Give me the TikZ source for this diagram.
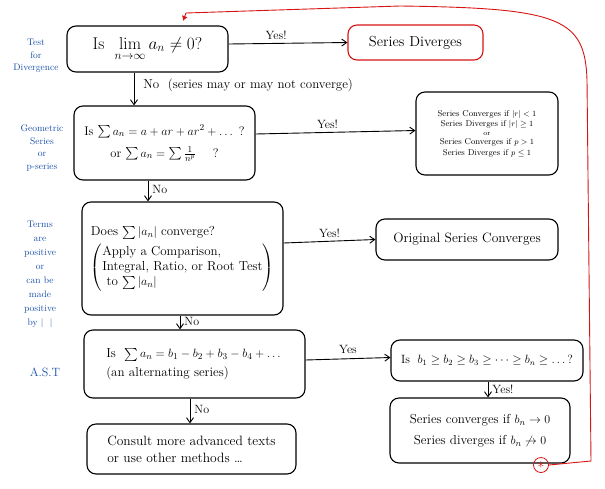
\documentclass[tikz,border=0pt]{standalone}
\usepackage{amsmath,amssymb}
\usetikzlibrary{arrows.meta}
\definecolor{pen}{RGB}{25,80,170}
\definecolor{redpen}{RGB}{215,20,20}
\begin{document}
\begin{tikzpicture}[x=1pt,y=-1pt,
  box/.style={draw, line width=1.1pt, rounded corners=9pt, align=center, inner sep=3pt},
  arr/.style={draw, line width=0.9pt, -{Straight Barb[length=5pt,width=7pt]}},
  lbl/.style={font=\fontsize{12}{13}\selectfont, inner sep=1pt},
  side/.style={text=pen, align=center, font=\fontsize{9.5}{12.5}\selectfont}]
\useasboundingbox (0,0) rectangle (605,488);
% boxes
\node[box, minimum width=161, minimum height=46, font=\fontsize{17}{19}\selectfont] (b1) at (147.5,49)
  {Is \ $\displaystyle\lim_{n\to\infty} a_n \neq 0$?};
\node[box, draw=redpen, minimum width=135, minimum height=35, font=\fontsize{14.5}{16}\selectfont] (b2) at (415.5,42.5)
  {Series Diverges};
\node[box, minimum width=181, minimum height=74, font=\fontsize{12.5}{22}\selectfont] (b3) at (164.5,143)
  {Is $\sum a_n = a + ar + ar^2 + \dots$ ?\\ or $\sum a_n = \sum \frac{1}{n^p}$ \quad ?};
\node[box, minimum width=142, minimum height=83, font=\fontsize{8.5}{10.5}\selectfont] (b4) at (487,133.5)
  {Series Converges if $|r|<1$\\ Series Diverges if $|r|\ge 1$\\[-2pt] {\fontsize{7}{7}\selectfont or}\\[-1pt] Series Converges if $p>1$\\ Series Diverges if $p\le 1$};
\node[box, minimum width=201, minimum height=113, font=\fontsize{13}{15}\selectfont, align=left, inner sep=2pt] (b5) at (182.5,258.5)
  {Does $\sum|a_n|$ converge?\\[4pt]
   $\left(\begin{tabular}{@{}l@{}}Apply a Comparison,\\ Integral, Ratio, or Root Test\\ \ to $\sum|a_n|$\end{tabular}\right)$};
\node[box, minimum width=182, minimum height=41, font=\fontsize{13.5}{15}\selectfont] (b6) at (467,239.5)
  {Original Series Converges};
\node[box, minimum width=221, minimum height=68, font=\fontsize{13}{19}\selectfont, align=left] (b7) at (194.5,364)
  {Is \ $\sum a_n = b_1 - b_2 + b_3 - b_4 + \dots$\\ (an alternating series)};
\node[box, minimum width=192, minimum height=41, font=\fontsize{12}{14}\selectfont] (b8) at (487,360.5)
  {Is \ $b_1 \ge b_2 \ge b_3 \ge \dots \ge b_n \ge \dots$?};
\node[box, minimum width=180, minimum height=65, font=\fontsize{13}{21}\selectfont] (b9) at (480,430.5)
  {Series converges if $b_n \to 0$\\ Series diverges if $b_n \not\to 0$};
\node[box, minimum width=209, minimum height=50, font=\fontsize{13.5}{17}\selectfont, align=left] (b10) at (191.5,449)
  {Consult more advanced texts\\ or use other methods \dots};
% connectors
\draw[arr] ([yshift=5pt]b1.east) -- node[lbl, pos=0.4, above=2pt] {Yes!} (b2.west);
\draw[arr] ([xshift=-13.5pt]b1.south) -- node[lbl, font=\fontsize{13}{14}\selectfont, pos=0.38, right=8pt, anchor=west] {No \ (series may or may not converge)} ([xshift=-13.5pt]b1.south |- b3.north);
\draw[arr] ([yshift=9pt]b3.east) -- node[lbl, pos=0.45, above=2pt] {Yes!} ([yshift=3pt]b4.west);
\draw[arr] ([xshift=-16.5pt]b3.south) -- node[lbl, pos=0.45, right=3pt] {No} ([xshift=-16.5pt]b3.south |- b5.north);
\draw[arr] ([yshift=15.5pt]b5.east) -- node[lbl, pos=0.5, above=2pt] {Yes!} (b6.west);
\draw[arr] ([xshift=-2.5pt]b5.south) -- node[lbl, pos=0.4, right=3pt] {No} ([xshift=-2.5pt]b5.south |- b7.north);
\draw[arr] ([yshift=4pt]b7.east) -- node[lbl, pos=0.5, above=4pt] {Yes} ([yshift=3pt]b8.west);
\draw[arr] ([xshift=1pt]b8.south) -- node[lbl, pos=0.5, right=3pt] {Yes!} ([xshift=1pt]b8.south |- b9.north);
\draw[arr] ([xshift=-4.5pt]b7.south) -- node[lbl, pos=0.45, right=3pt] {No} ([xshift=-4.5pt]b7.south |- b10.north);
% red loop back
\node[draw=redpen, text=redpen, circle, line width=0.8pt, minimum size=15pt, inner sep=0pt, font=\fontsize{14}{14}\selectfont] (star) at (541,465) {$\ast$};
\coordinate (rt) at (183,21);
\draw[redpen, line width=0.9pt, -{Latex[length=5pt,width=6pt]}]
  (star.east) -- (591,461) -- (587,80) .. controls (585,18) and (560,8) .. (400,6) -- (186,13) -- (rt);
% side labels
\node[side] (s1) at (36,56) {Test\\ for\\ Divergence};
\node[side] (s2) at (42,148) {Geometric\\ Series\\ or\\ p-series};
\node[side, font=\fontsize{9.5}{14}\selectfont] (s3) at (40,274) {Terms\\ are\\ positive\\ or\\ can be\\ made\\ positive\\ by $|\ \ |$};
\node[side, font=\fontsize{12}{12}\selectfont] (s4) at (45,372) {A.S.T};
\end{tikzpicture}
\end{document}
